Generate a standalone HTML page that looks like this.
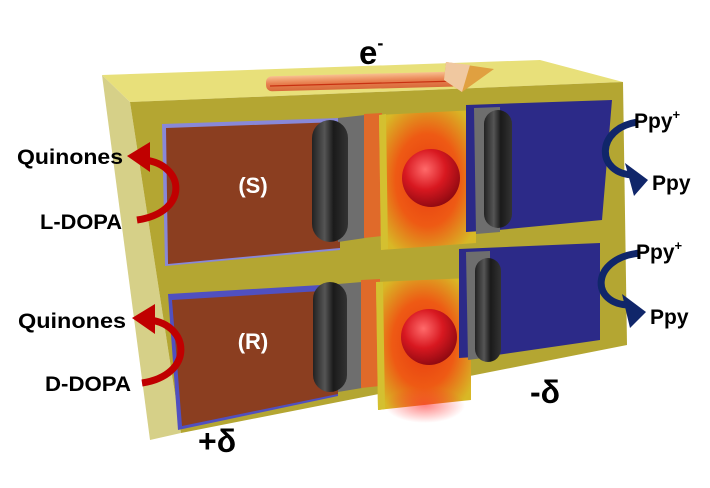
<!DOCTYPE html>
<html><head><meta charset="utf-8"><style>
html,body{margin:0;padding:0;background:#fff;width:710px;height:488px;overflow:hidden}
svg{display:block}
text{font-family:"Liberation Sans",sans-serif;font-weight:bold;fill:#000}
</style></head><body>
<svg width="710" height="488" viewBox="0 0 710 488" xmlns="http://www.w3.org/2000/svg">
<defs>
<radialGradient id="glow" cx="0.5" cy="0.5" r="0.6">
<stop offset="0" stop-color="#e83a10"/><stop offset="0.55" stop-color="#ee5a14"/><stop offset="1" stop-color="#d8b826"/>
</radialGradient>
<radialGradient id="sph" cx="0.4" cy="0.35" r="0.7">
<stop offset="0" stop-color="#ff6a6a"/><stop offset="0.5" stop-color="#d81820"/><stop offset="1" stop-color="#8a0810"/>
</radialGradient>
<linearGradient id="pill" x1="0" x2="1">
<stop offset="0" stop-color="#222"/><stop offset="0.35" stop-color="#555"/><stop offset="0.6" stop-color="#1a1a1a"/><stop offset="1" stop-color="#333"/>
</linearGradient>
<linearGradient id="rod" x1="0" y1="0" x2="0" y2="1">
<stop offset="0" stop-color="#f8c090"/><stop offset="0.5" stop-color="#e88050"/><stop offset="1" stop-color="#d86a3a"/>
</linearGradient>
<radialGradient id="redglow" cx="0.5" cy="0.5" r="0.5">
<stop offset="0" stop-color="#ff3030" stop-opacity="0.6"/><stop offset="1" stop-color="#ff3030" stop-opacity="0"/>
</radialGradient>
</defs>
<!-- box -->
<polygon points="102,75 540,60 623,82 130,102" fill="#e8e07a"/>
<polygon points="102,75 130,102 181,433 150,440" fill="#d6d088"/>
<polygon points="130,102 623,82 627,345 181,433" fill="#b4a632"/>
<!-- electron arrow -->
<rect x="266" y="74" width="192" height="15" rx="6" fill="url(#rod)" transform="rotate(-1.5 360 82)"/>
<line x1="270" y1="86" x2="458" y2="81" stroke="#c83010" stroke-width="1.2"/>
<polygon points="446,62 494,69 462,92 444,80" fill="#e0a040"/>
<polygon points="446,62 470,65 462,92 444,80" fill="#f0c8a0"/>
<!-- upper row -->
<polygon points="162,124 340,118 340,250 165,266" fill="#8888d8"/>
<polygon points="166,128 340,122 340,248 168,264" fill="#8b3e20"/>
<polygon points="338,118 365,115 365,238 338,242" fill="#6e6e6e"/>
<polygon points="364,114 382,113 382,236 364,238" fill="#e06a2a"/>
<polygon points="379,115 476,110 476,243 381,250" fill="url(#glow)"/>
<polygon points="379,115 386,114 388,249 381,250" fill="#d4c030"/>
<polygon points="466,105 612,100 602,220 498,230 466,232" fill="#2c2a88"/>
<polygon points="474,108 500,107 500,232 476,234" fill="#6e6e6e"/>
<rect x="312" y="120" width="36" height="122" rx="18" fill="url(#pill)"/>
<rect x="484" y="110" width="28" height="118" rx="14" fill="url(#pill)"/>
<circle cx="431" cy="178" r="29" fill="url(#sph)"/>
<text x="253" y="193" text-anchor="middle" font-size="22" style="fill:#fff">(S)</text>
<!-- lower row -->
<polygon points="168,294 338,284 338,396 178,430" fill="#5050c0"/>
<polygon points="172,300 338,290 338,394 182,426" fill="#8b3e20"/>
<polygon points="338,284 362,282 362,388 338,392" fill="#6e6e6e"/>
<polygon points="361,280 380,279 380,386 361,388" fill="#e06a2a"/>
<polygon points="376,282 471,278 471,400 378,410" fill="url(#glow)"/>
<polygon points="376,282 383,282 385,409 378,410" fill="#d4c030"/>
<polygon points="459,249 600,243 600,340 490,356 459,358" fill="#2c2a88"/>
<polygon points="466,252 490,251 490,357 468,360" fill="#6e6e6e"/>
<rect x="313" y="282" width="34" height="110" rx="17" fill="url(#pill)"/>
<rect x="475" y="258" width="26" height="104" rx="13" fill="url(#pill)"/>
<circle cx="429" cy="337" r="28" fill="url(#sph)"/>
<ellipse cx="425" cy="405" rx="40" ry="18" fill="url(#redglow)"/>
<text x="253" y="349" text-anchor="middle" font-size="22" style="fill:#fff">(R)</text>
<!-- red arrows -->
<path d="M137,220 C190,212 185,165 145,160" fill="none" stroke="#c00000" stroke-width="7"/>
<polygon points="127,156 150,142 150,172" fill="#c00000"/>
<path d="M142,383 C195,375 190,325 150,320" fill="none" stroke="#c00000" stroke-width="7"/>
<polygon points="132,318 155,304 155,334" fill="#c00000"/>
<!-- blue arrows -->
<path d="M638,122 C595,128 595,175 635,175" fill="none" stroke="#10266a" stroke-width="7"/>
<polygon points="648,180 625,163 634,196" fill="#10266a"/>
<path d="M640,253 C590,258 590,305 630,305" fill="none" stroke="#10266a" stroke-width="7"/>
<polygon points="646,312 622,294 630,328" fill="#10266a"/>
<!-- labels -->
<text x="17" y="164" font-size="21" textLength="106" lengthAdjust="spacingAndGlyphs">Quinones</text>
<text x="40" y="229" font-size="21" textLength="82" lengthAdjust="spacingAndGlyphs">L-DOPA</text>
<text x="18" y="328" font-size="21" textLength="108" lengthAdjust="spacingAndGlyphs">Quinones</text>
<text x="45" y="391" font-size="21" textLength="86" lengthAdjust="spacingAndGlyphs">D-DOPA</text>
<text x="634" y="128" font-size="21">Ppy<tspan font-size="13" dy="-9">+</tspan></text>
<text x="652" y="190" font-size="21">Ppy</text>
<text x="636" y="259" font-size="21">Ppy<tspan font-size="13" dy="-9">+</tspan></text>
<text x="650" y="324" font-size="21">Ppy</text>
<text x="359" y="64" font-size="33">e<tspan font-size="18" dy="-15">-</tspan></text>
<text x="198" y="452" font-size="32">+δ</text>
<text x="530" y="403" font-size="32">-δ</text>
</svg>
</body></html>
